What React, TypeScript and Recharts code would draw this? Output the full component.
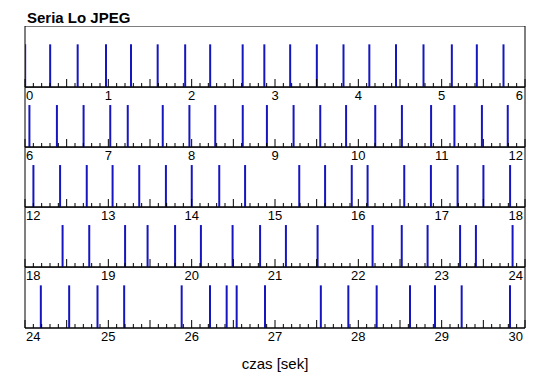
import { ComposedChart, Bar, XAxis, YAxis, ReferenceArea } from "recharts";

// spike times (seconds), one array per 6-second row
const row0 = [0.0, 0.3, 0.63, 0.97, 1.27, 1.59, 1.92, 2.22, 2.61, 2.87, 3.18, 3.5, 3.82, 4.13, 4.45, 4.78, 5.12, 5.42, 5.74];
const row1 = [6.05, 6.38, 6.7, 7.02, 7.23, 7.65, 7.97, 8.28, 8.61, 8.9, 9.22, 9.54, 9.85, 10.2, 10.52, 10.87, 11.15, 11.48, 11.79];
const row2 = [12.1, 12.42, 12.74, 13.05, 13.37, 13.69, 14.0, 14.33, 14.64, 15.29, 15.6, 15.92, 16.11, 16.55, 16.87, 17.19, 17.5, 17.82];
const row3 = [18.45, 18.77, 19.2, 19.47, 19.8, 20.11, 20.49, 20.82, 21.13, 21.51, 22.17, 22.52, 22.83, 23.22, 23.41, 23.85];
const row4 = [24.19, 24.53, 24.87, 25.19, 25.88, 26.22, 26.42, 26.54, 26.88, 27.55, 27.88, 28.22, 28.62, 28.92, 29.24, 29.82];

const rows = [row0, row1, row2, row3, row4];
const rowStarts = [0, 6, 12, 18, 24];
const rowEdges = [26, 87, 147, 207, 267, 328]; // pixel top of each row + bottom

const SPAN = 6;
const Y_MAX = 1.43;
const FONT = '"Liberation Sans", Arial, Helvetica, sans-serif';

function makeTicks(start: number) {
  const out: number[] = [];
  for (let i = 0; i <= SPAN * 10; i++) out.push((start * 10 + i) / 10);
  return out;
}

function makeTick(start: number) {
  return (props: any) => {
    const { x, y, payload } = props;
    const v: number = payload.value;
    const isInt = Math.abs(v - Math.round(v)) < 1e-6;
    const isHalf = Math.abs(v * 2 - Math.round(v * 2)) < 1e-6;
    const h = isHalf ? 8 : 4;
    let anchor: "start" | "middle" | "end" = "middle";
    let tx = x;
    if (Math.abs(v - start) < 1e-6) {
      anchor = "start";
      tx = x + 1;
    } else if (Math.abs(v - (start + SPAN)) < 1e-6) {
      anchor = "end";
      tx = x - 2;
    }
    return (
      <g>
        <line x1={x} x2={x} y1={y} y2={y - h} stroke="#000" strokeWidth={1} />
        {isInt && (
          <text x={tx} y={y + 12.5} textAnchor={anchor} fontSize={13} fontFamily={FONT} fill="#000">
            {Math.round(v)}
          </text>
        )}
      </g>
    );
  };
}

function Row({ idx }: { idx: number }) {
  const start = rowStarts[idx];
  const top = rowEdges[idx];
  const h = rowEdges[idx + 1] - top;
  const data = rows[idx].map((t) => ({ t, v: 1 }));
  return (
    <div style={{ position: "absolute", left: 0, top, width: 550 }}>
      <ComposedChart width={550} height={h + 16} data={data} margin={{ top: 0, right: 25, left: 25, bottom: 0 }}>
        <XAxis
          dataKey="t"
          type="number"
          domain={[start, start + SPAN]}
          allowDataOverflow
          ticks={makeTicks(start)}
          interval={0}
          tickSize={0}
          tickMargin={0}
          tickLine={false}
          tick={makeTick(start)}
          height={16}
          axisLine={{ stroke: "#000" }}
        />
        <YAxis hide domain={[0, Y_MAX]} allowDataOverflow />
        <ReferenceArea x1={start} x2={start + SPAN} y1={0} y2={Y_MAX} fill="none" stroke="#000" strokeOpacity={1} />
        <Bar dataKey="v" fill="#1616c0" barSize={2} isAnimationActive={false} />
      </ComposedChart>
    </div>
  );
}

export default function App() {
  return (
    <div style={{ position: "absolute", left: 0, top: 0, width: 550, height: 389, background: "#fff", fontFamily: FONT }}>
      <div style={{ position: "absolute", left: 27, top: 9, fontSize: 15, fontWeight: "bold", lineHeight: "17px" }}>
        Seria Lo JPEG
      </div>
      {rows.map((_, i) => (
        <Row key={i} idx={i} />
      ))}
      <div style={{ position: "absolute", left: 0, width: 550, top: 355, textAlign: "center", fontSize: 15, lineHeight: "17px" }}>
        czas [sek]
      </div>
    </div>
  );
}
